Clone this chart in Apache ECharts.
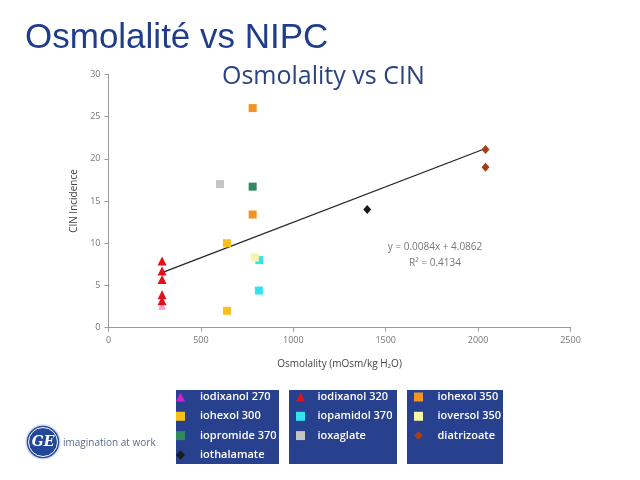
<!DOCTYPE html>
<html>
<head>
<meta charset="utf-8">
<script src="https://cdn.jsdelivr.net/npm/echarts@6/dist/echarts.min.js"></script>
<style>
html,body{margin:0;padding:0;background:#fff;}
#c{width:640px;height:480px;}
</style>
</head>
<body>
<div id="c"></div>
<script>
// ---- data ----
var xTicks = [0, 500, 1000, 1500, 2000, 2500];
var yTicks = [0, 5, 10, 15, 20, 25, 30];

var iodixanol270 = [[290, 2.6]];
var iodixanol320 = [[290, 7.9], [290, 6.7], [290, 5.7], [290, 3.9], [290, 3.2]];
var iohexol300   = [[641, 10.0], [641, 2.0]];
var iohexol350   = [[780, 26.0], [780, 13.4]];
var ioxaglate    = [[603, 17.0]];
var iopromide370 = [[780, 16.7]];
var ioversol350  = [[792, 8.3]];
var iopamidol370 = [[816, 8.0], [814, 4.4]];
var iothalamate  = [[1400, 14.0]];
var diatrizoate  = [[2040, 21.1], [2040, 19.0]];

var trendX = [290, 2040];
var trendY = [6.52, 21.22];

var legend1 = ['iodixanol 270', 'iohexol 300', 'iopromide 370', 'iothalamate'];
var legend2 = ['iodixanol 320', 'iopamidol 370', 'ioxaglate'];
var legend3 = ['iohexol 350', 'ioversol 350', 'diatrizoate'];

var eqText1 = 'y = 0.0084x + 4.0862';
var eqText2 = 'R² = 0.4134';

// ---- chart ----
var chart = echarts.init(document.getElementById('c'), null, {renderer: 'canvas'});

function sc(name, data, color, symbol, size) {
  return {
    name: name, type: 'scatter', data: data,
    symbol: symbol, symbolSize: size,
    itemStyle: {color: color, opacity: 1},
    z: 3
  };
}

var trendData = trendX.map(function (x, i) { return [x, trendY[i]]; });

var legendText = {color: '#ffffff', fontFamily: 'Open Sans', fontWeight: 600, fontSize: 11, lineHeight: 12};

function mkLegend(names, left, pad, icons) {
  return {
    orient: 'vertical', left: left, top: 391,
    itemWidth: 9, itemHeight: 9, itemGap: 7.3,
    padding: 0,
    selectedMode: false,
    data: icons,
    textStyle: Object.assign({}, legendText, {padding: [0, 0, 0, pad]})
  };
}

var option = {
  animation: false,
  backgroundColor: '#ffffff',
  title: [
    {
      text: 'Osmolalité vs NIPC', left: 20, top: 16,
      textStyle: {fontFamily: 'Liberation Sans, Arial', fontSize: 35, fontWeight: 'normal', color: '#1f3d8c'}
    },
    {
      text: 'Osmolality vs CIN', left: 217, top: 59,
      textStyle: {fontFamily: 'Open Sans', fontSize: 25, fontWeight: 500, color: '#2c4382'}
    }
  ],
  legend: [
    mkLegend(legend1, 176, 10, [
      {name: 'iodixanol 270', icon: 'triangle', itemStyle: {color: '#d51fd0'}},
      {name: 'iohexol 300', icon: 'rect'},
      {name: 'iopromide 370', icon: 'rect'},
      {name: 'iothalamate', icon: 'diamond'}
    ]),
    mkLegend(legend2, 296, 7.5, [
      {name: 'iodixanol 320', icon: 'triangle'},
      {name: 'iopamidol 370', icon: 'rect'},
      {name: 'ioxaglate', icon: 'rect'}
    ]),
    mkLegend(legend3, 414, 9.5, [
      {name: 'iohexol 350', icon: 'rect'},
      {name: 'ioversol 350', icon: 'rect'},
      {name: 'diatrizoate', icon: 'diamond'}
    ])
  ],
  grid: {left: 108.5, right: 69.5, top: 74.3, bottom: 152.3, containLabel: false},
  xAxis: {
    type: 'value', min: xTicks[0], max: xTicks[xTicks.length - 1], interval: 500,
    name: 'Osmolality (mOsm/kg H₂O)', nameLocation: 'middle', nameGap: 31,
    nameTextStyle: {fontFamily: 'Open Sans', fontSize: 10, color: '#444'},
    axisLine: {lineStyle: {color: '#9a9a9a', width: 1}},
    axisTick: {show: true, length: 4, lineStyle: {color: '#9a9a9a'}},
    axisLabel: {fontFamily: 'Open Sans', fontSize: 9, color: '#777', margin: 8,
      formatter: function (v) { return String(v); }},
    splitLine: {show: false}
  },
  yAxis: {
    type: 'value', min: yTicks[0], max: yTicks[yTicks.length - 1], interval: 5,
    name: 'CIN Incidence', nameLocation: 'middle', nameGap: 22, nameRotate: 90,
    nameTextStyle: {fontFamily: 'Open Sans', fontSize: 10, color: '#444'},
    axisLine: {show: true, lineStyle: {color: '#9a9a9a', width: 1}},
    axisTick: {show: true, length: 4, lineStyle: {color: '#9a9a9a'}},
    axisLabel: {fontFamily: 'Open Sans', fontSize: 9, color: '#777', margin: 8},
    splitLine: {show: false}
  },
  series: [
    {
      name: 'trend', type: 'line', data: trendData, symbol: 'none',
      lineStyle: {color: '#222', width: 1.2}, z: 2, silent: true
    },
    sc('iodixanol 270', iodixanol270, '#f2a0c8', 'triangle', 8),
    sc('iohexol 300', iohexol300, '#f7c11c', 'rect', 8),
    sc('iopromide 370', iopromide370, '#2e8a5e', 'rect', 8),
    sc('iothalamate', iothalamate, '#1a1a1a', 'diamond', [8, 9]),
    sc('ioxaglate', ioxaglate, '#c4c4c4', 'rect', 8),
    sc('iopamidol 370', iopamidol370, '#33e4f0', 'rect', 8),
    sc('iohexol 350', iohexol350, '#f2941f', 'rect', 8),
    sc('ioversol 350', ioversol350, '#f6f6a8', 'rect', 8),
    sc('diatrizoate', diatrizoate, '#a83c12', 'diamond', [8, 9]),
    sc('iodixanol 320', iodixanol320, '#e0101c', 'triangle', 9)
  ],
  graphic: [
    {type: 'rect', z: 0, shape: {x: 176, y: 390, width: 103, height: 74}, style: {fill: '#27418f'}},
    {type: 'rect', z: 0, shape: {x: 289, y: 390, width: 108, height: 74}, style: {fill: '#27418f'}},
    {type: 'rect', z: 0, shape: {x: 407, y: 390, width: 96, height: 74}, style: {fill: '#27418f'}},
    {type: 'text', z: 5, style: {text: eqText1, x: 435, y: 247, align: 'center', verticalAlign: 'middle',
      font: '10px "Open Sans"', fill: '#777'}},
    {type: 'text', z: 5, style: {text: eqText2, x: 435, y: 263, align: 'center', verticalAlign: 'middle',
      font: '10px "Open Sans"', fill: '#777'}},
    {type: 'circle', z: 5, shape: {cx: 43, cy: 442, r: 17}, style: {fill: '#24479a', stroke: '#d8def0', lineWidth: 1.5}},
    {type: 'circle', z: 5, shape: {cx: 43, cy: 442, r: 14.5}, style: {fill: 'none', stroke: '#ffffff', lineWidth: 1}},
    {type: 'text', z: 6, style: {text: 'GE', x: 43, y: 442, align: 'center', verticalAlign: 'middle',
      font: 'italic bold 14px "DejaVu Serif"', fill: '#ffffff'}},
    {type: 'text', z: 5, style: {text: 'imagination at work', x: 63, y: 443, align: 'left', verticalAlign: 'middle',
      font: '10px "Open Sans"', fill: '#5a6a8a'}}
  ]
};

chart.setOption(option);
</script>
</body>
</html>
